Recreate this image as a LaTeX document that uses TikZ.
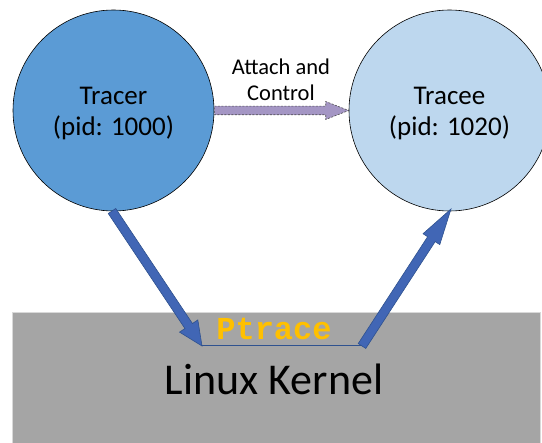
\documentclass[tikz,border=0pt]{standalone}
\usepackage{fontspec}
\setmainfont{Carlito}
\newfontfamily\monof{Liberation Mono}
\usetikzlibrary{calc}
\definecolor{tracerblue}{HTML}{5B9BD5}
\definecolor{traceeblue}{HTML}{BDD7EE}
\definecolor{arrowblue}{HTML}{4166B5}
\definecolor{arrowedge}{HTML}{2F528F}
\definecolor{kernelgray}{HTML}{A5A5A5}
\definecolor{purplefill}{HTML}{A496C4}
\definecolor{ptraceorange}{HTML}{FFC000}
% #1 start, #2 end, #3 shaft half width, #4 head half width, #5 head length, #6 style
\newcommand\myblockarrow[6]{%
  \coordinate (bah) at ($(#2)!#5!(#1)$);
  \draw[#6] ($(#1)!#3!90:(#2)$) -- ($(bah)!#3!-90:(#1)$) -- ($(bah)!#4!-90:(#1)$) -- (#2)
    -- ($(bah)!#4!90:(#1)$) -- ($(bah)!#3!90:(#1)$) -- ($(#1)!#3!-90:(#2)$) -- cycle;
}
\tikzset{
  proc/.style={circle, draw=black, line width=0.6pt, minimum size=201pt, inner sep=0pt},
  proctext/.style={align=center, inner sep=0pt, font=\fontsize{27}{31}\selectfont},
  bluearrow/.style={fill=arrowblue, draw=arrowedge, line width=0.6pt},
  purplearrow/.style={fill=purplefill, draw=black!70, dashed, dash pattern=on 2pt off 1.5pt, line width=0.6pt},
}
\begin{document}
\begin{tikzpicture}[x=1pt, y=-1pt]
\useasboundingbox (0,0) rectangle (542,443);
\clip (0,0) rectangle (542,443);
% kernel
\node[fill=kernelgray, draw=black!15, line width=0.8pt, anchor=north west, minimum width=528pt,
  minimum height=150pt, inner sep=0pt] (kernel) at (12,312) {};
\node[anchor=base, font=\fontsize{44}{50}\selectfont] (lk) at (274,395) {Linux Kernel};
\node[anchor=base, text=ptraceorange, font=\monof\bfseries\fontsize{32}{32}\selectfont] (pt) at (274,340) {Ptrace};
% processes
\node[proc, fill=tracerblue] (tracer) at (113.5,110.5) {};
\node[proc, fill=traceeblue] (tracee) at (449.5,110.5) {};
\node[proctext] (tracertext) at ([yshift=-3pt]tracer.center) {Tracer\\(pid: 1000)};
\node[proctext] (traceetext) at ([yshift=-3pt]tracee.center) {Tracee\\(pid: 1020)};
% coordinates
\coordinate (la1) at (112,211);
\coordinate (la2) at (202,346);
\coordinate (ra1) at (362,346);
\coordinate (ra2) at (451,209);
\coordinate (da1) at (tracer.east);
\coordinate (da2) at (tracee.west);
% connectors
\draw[arrowedge, line width=1pt] (la2) -- (ra1);
\myblockarrow{la1}{la2}{4.5pt}{11pt}{24pt}{bluearrow}
\myblockarrow{ra1}{ra2}{4.5pt}{10pt}{36pt}{bluearrow}
\myblockarrow{da1}{da2}{4.3pt}{9pt}{23pt}{purplearrow}
\node[align=center, font=\fontsize{22.5}{25.5}\selectfont] (lbl) at (281,80) {Attach and\\Control};
\end{tikzpicture}
\end{document}
